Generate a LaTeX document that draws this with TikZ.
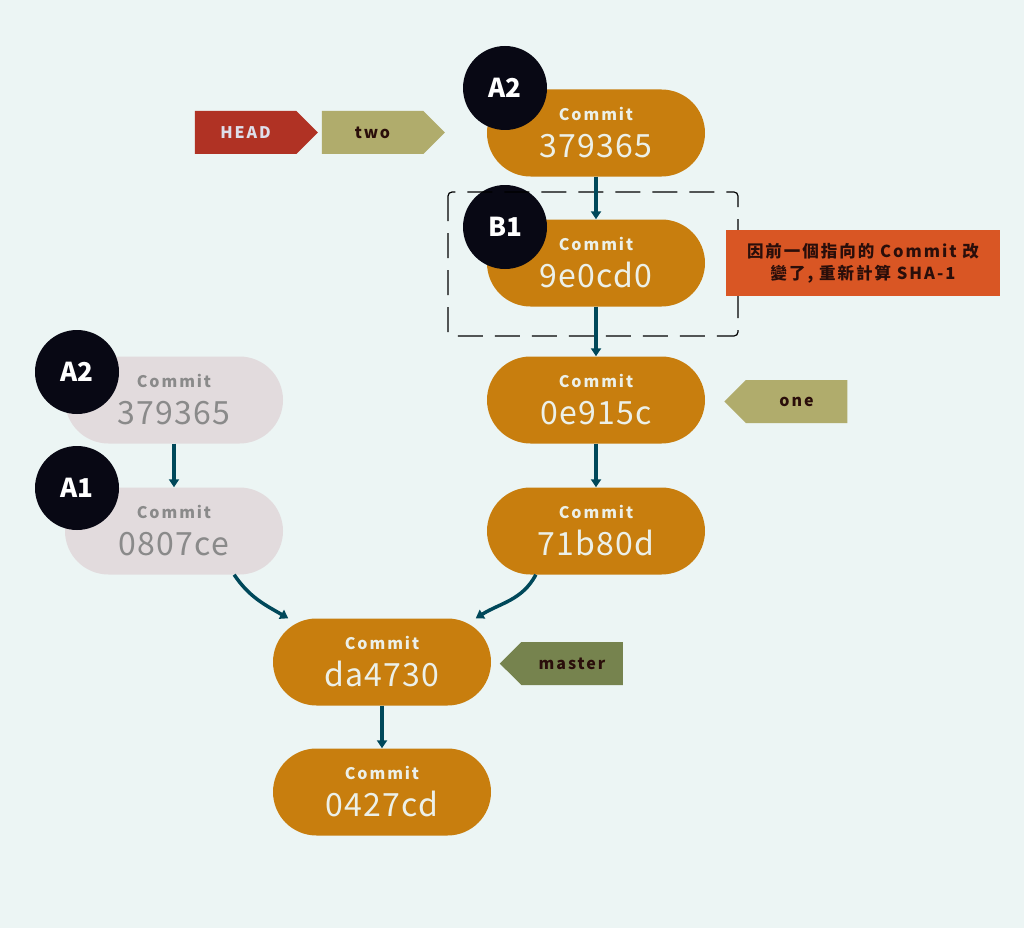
\documentclass[tikz,border=0pt]{standalone}
\usepackage{fontspec}
\setmainfont{Noto Sans CJK TC}
\newfontfamily\spacedfont[LetterSpace=12]{Noto Sans CJK TC}
\newfontfamily\hashfont[LetterSpace=4]{Noto Sans CJK TC}
\usetikzlibrary{shapes.symbols, arrows.meta}
\definecolor{bgmint}{RGB}{236,245,244}
\definecolor{cmorange}{RGB}{200,126,14}
\definecolor{cmgray}{RGB}{226,219,221}
\definecolor{cmgraytxt}{RGB}{138,138,138}
\definecolor{pilltxt}{RGB}{236,240,232}
\definecolor{dotblack}{RGB}{8,8,20}
\definecolor{arrowteal}{RGB}{0,72,90}
\definecolor{headred}{RGB}{176,50,36}
\definecolor{headtxt}{RGB}{222,222,234}
\definecolor{tagolive}{RGB}{176,172,108}
\definecolor{tagmaster}{RGB}{118,131,78}
\definecolor{tagtxt}{RGB}{42,14,10}
\definecolor{noteorange}{RGB}{217,86,36}
\tikzset{
  commit/.style={rectangle,rounded corners=43.5pt,fill=cmorange,minimum width=218pt,
    minimum height=87pt,align=center,text=pilltxt,inner sep=0pt,
    font=\hashfont\fontsize{32}{37}\selectfont},
  oldcommit/.style={commit,fill=cmgray,text=cmgraytxt},
  dot/.style={circle,fill=dotblack,minimum size=84pt,inner sep=0pt,text=white,
    font=\bfseries\fontsize{26}{26}\selectfont},
  tag/.style={signal,signal pointer angle=90,minimum width=123pt,minimum height=43pt,
    inner sep=0pt,text=tagtxt,font=\spacedfont\bfseries\fontsize{16}{16}\selectfont},
  headtag/.style={tag,signal to=east,fill=headred,text=headtxt},
  branchR/.style={tag,signal to=east,fill=tagolive},
  branchL/.style={tag,signal to=west,fill=#1},
  note/.style={rectangle,fill=noteorange,minimum width=274pt,minimum height=66pt,
    align=center,text=tagtxt,inner sep=0pt,
    font=\spacedfont\bfseries\fontsize{16.5}{22}\selectfont},
  link/.style={-{Triangle[width=10pt,length=8pt]},line width=3.5pt,draw=arrowteal},
  dashbox/.style={draw=black,line width=1.2pt,dash pattern=on 25pt off 12pt,rounded corners=4pt}
}
\newcommand{\commitlbl}[1]{{\spacedfont\bfseries\fontsize{16}{16}\selectfont Commit}\\#1}

\begin{document}
\begin{tikzpicture}[x=1pt,y=1pt]
  % background
  \fill[bgmint] (0,0) rectangle (1024,-928);
  \useasboundingbox (0,0) rectangle (1024,-928);

  % rewritten branch
  \node[commit] (cA2) at (596,-133) {\commitlbl{379365}};
  \node[commit] (cB1) at (596,-263) {\commitlbl{9e0cd0}};
  \node[commit] (cOne) at (596,-400) {\commitlbl{0e915c}};
  \node[commit] (cSeven) at (596,-531) {\commitlbl{71b80d}};

  % old commits
  \node[oldcommit] (gA2) at (174,-400) {\commitlbl{379365}};
  \node[oldcommit] (gA1) at (174,-531) {\commitlbl{0807ce}};

  % master line
  \node[commit] (cMaster) at (382,-662) {\commitlbl{da4730}};
  \node[commit] (cRoot) at (382,-792) {\commitlbl{0427cd}};

  % step markers
  \node[dot] (dA2) at (505,-88) {A2};
  \node[dot] (dB1) at (505,-227) {B1};
  \node[dot] (dgA2) at (77,-372) {A2};
  \node[dot] (dgA1) at (77,-488) {A1};

  % refs
  \node[headtag] (head) at (245.5,-132.5) {HEAD};
  \node[branchR] (two) at (372.5,-132.5) {two};
  \node[branchL=tagolive] (one) at (796.5,-401.5) {one};
  \node[branchL=tagmaster] (master) at (572,-663.5) {master};

  % changed commit
  \draw[dashbox] (448,-192) rectangle (738,-336);
  \node[note] (why) at (863,-263) {\raisebox{-3pt}{因前一個指向的 Commit 改}\\\raisebox{-3pt}{變了, 重新計算 SHA-1}};

  % links
  \draw[link] (cA2.south) -- (cB1.north);
  \draw[link] (cB1.south) -- (cOne.north);
  \draw[link] (cOne.south) -- (cSeven.north);
  \draw[link] (gA2.south) -- (gA1.north);
  \draw[link] (gA1.-36) to[out=-56,in=150] (cMaster.155);
  \draw[link] (cSeven.-144) to[out=-118,in=32] (cMaster.25);
  \draw[link] (cMaster.south) -- (cRoot.north);
\end{tikzpicture}
\end{document}
